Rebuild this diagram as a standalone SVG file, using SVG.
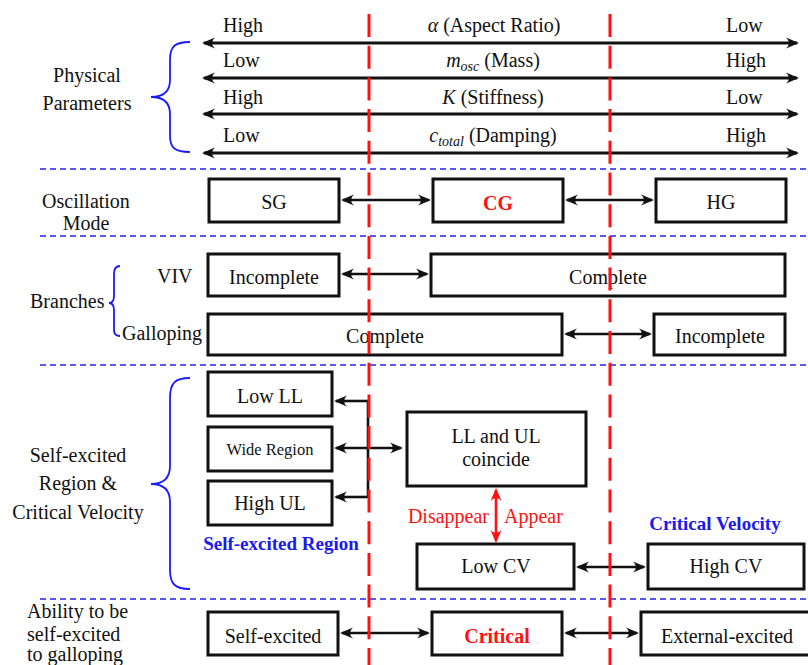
<svg xmlns="http://www.w3.org/2000/svg" width="808" height="665" viewBox="0 0 808 665" font-family="'Liberation Serif', 'DejaVu Serif', serif">
<defs>
<style>
text{font-family:'Liberation Serif','DejaVu Serif',serif;font-size:20px;fill:#111}
.c{text-anchor:middle}
.b{font-weight:bold}
.box{fill:#fff;stroke:#111;stroke-width:3}
.arr{stroke:#111;stroke-width:2.6;fill:none}
.top{stroke:#111;stroke-width:3;fill:none}
.brace{stroke:#1a1aff;stroke-width:1.8;fill:none}
.hsep{stroke:#2222ee;stroke-width:1.6;stroke-dasharray:6 4}
.vsep{stroke:#ff1111;stroke-width:3;stroke-dasharray:23 8.7}
</style>
<marker id="ah" markerWidth="16" markerHeight="14" refX="12" refY="7" orient="auto-start-reverse" markerUnits="userSpaceOnUse">
<path d="M14,7 L1,1.5 Q7,7 1,12.5 Z" fill="#111"/>
</marker>
<marker id="rh" markerWidth="16" markerHeight="14" refX="12" refY="7" orient="auto-start-reverse" markerUnits="userSpaceOnUse">
<path d="M14,7 L1,1.5 Q7,7 1,12.5 Z" fill="#ff1111"/>
</marker>
</defs>
<rect width="808" height="665" fill="#fff"/>

<g id="separators">
<line class="hsep" x1="40" y1="169" x2="808" y2="169"/>
<line class="hsep" x1="40" y1="236" x2="808" y2="236"/>
<line class="hsep" x1="40" y1="365" x2="808" y2="365"/>
<line class="hsep" x1="40" y1="599" x2="808" y2="599"/>
</g>

<g id="left-labels">
<text class="c" x="87" y="82">Physical</text>
<text class="c" x="87" y="110">Parameters</text>
<path class="brace" d="M190,42 C175,42 170,46 170,60 L170,80 C170,92 163,97 151,97 C163,97 170,102 170,114 L170,136 C170,148 175,152 190,152"/>
<text class="c" x="86" y="208">Oscillation</text>
<text class="c" x="86" y="230">Mode</text>
<text x="30" y="308">Branches</text>
<path class="brace" d="M120,266 C116,266 114,269 114,274 L114,296 C114,301 112,303 109,303 C112,303 114,305 114,310 L114,330 C114,334 116,336 120,336"/>
<text x="157" y="283">VIV</text>
<text x="122" y="340">Galloping</text>
<text class="c" x="78" y="462">Self-excited</text>
<text class="c" x="78" y="490">Region &amp;</text>
<text class="c" x="78" y="519">Critical Velocity</text>
<path class="brace" d="M190,378 C175,378 170,383 170,398 L170,466 C170,478 164,484 151,484 C164,484 170,490 170,502 L170,570 C170,584 175,589 190,589"/>
<text x="27" y="618">Ability to be</text>
<text x="27" y="641">self-excited</text>
<text x="27" y="661">to galloping</text>
</g>

<g id="parameters">
<line class="top" x1="204" y1="43" x2="797" y2="43" marker-start="url(#ah)" marker-end="url(#ah)"/>
<line class="top" x1="204" y1="78" x2="797" y2="78" marker-start="url(#ah)" marker-end="url(#ah)"/>
<line class="top" x1="204" y1="114" x2="797" y2="114" marker-start="url(#ah)" marker-end="url(#ah)"/>
<line class="top" x1="204" y1="153" x2="797" y2="153" marker-start="url(#ah)" marker-end="url(#ah)"/>
<text x="223" y="32">High</text>
<text x="223" y="67">Low</text>
<text x="223" y="104">High</text>
<text x="223" y="142">Low</text>
<text x="726" y="32">Low</text>
<text x="726" y="67">High</text>
<text x="726" y="104">Low</text>
<text x="726" y="142">High</text>
<text class="c" x="494" y="32"><tspan font-style="italic">α</tspan> (Aspect Ratio)</text>
<text class="c" x="493" y="67"><tspan font-style="italic">m</tspan><tspan font-style="italic" font-size="14" dy="4">osc</tspan><tspan dy="-4"> (Mass)</tspan></text>
<text class="c" x="493" y="104"><tspan font-style="italic">K</tspan> (Stiffness)</text>
<text class="c" x="493" y="142"><tspan font-style="italic">c</tspan><tspan font-style="italic" font-size="14" dy="4">total</tspan><tspan dy="-4"> (Damping)</tspan></text>
</g>

<g id="node-SG"><rect class="box" x="209" y="179" width="130" height="43"/><text class="c" x="274" y="209">SG</text></g>
<g id="node-CG"><rect class="box" x="433" y="179" width="130" height="43"/><text class="c b" x="498" y="210" style="fill:#ff1111">CG</text></g>
<g id="node-HG"><rect class="box" x="656" y="179" width="130" height="43"/><text class="c" x="721" y="209">HG</text></g>

<g id="node-VIV-incomplete"><rect class="box" x="208" y="254" width="131" height="42"/><text class="c" x="274" y="284">Incomplete</text></g>
<g id="node-VIV-complete"><rect class="box" x="431" y="254" width="354" height="42"/><text class="c" x="608" y="284">Complete</text></g>
<g id="node-gal-complete"><rect class="box" x="208" y="314" width="354" height="41"/><text class="c" x="385" y="343">Complete</text></g>
<g id="node-gal-incomplete"><rect class="box" x="654" y="314" width="131" height="41"/><text class="c" x="720" y="343">Incomplete</text></g>

<g id="node-lowLL"><rect class="box" x="208" y="372" width="124" height="44"/><text class="c" x="270" y="403">Low LL</text></g>
<g id="node-wide"><rect class="box" x="208" y="427" width="124" height="44"/><text class="c" x="270" y="455" style="font-size:16.5px">Wide Region</text></g>
<g id="node-highUL"><rect class="box" x="208" y="481" width="124" height="44"/><text class="c" x="270" y="510">High UL</text></g>
<g id="label-ser"><text class="c b" x="281" y="550" style="font-size:19px;fill:#1a1aee">Self-excited Region</text></g>
<g id="node-coincide"><rect class="box" x="407" y="412" width="179" height="74"/><text class="c" x="496" y="443">LL and UL</text><text class="c" x="496" y="466">coincide</text></g>
<g id="node-lowCV"><rect class="box" x="417" y="544" width="157" height="45"/><text class="c" x="496" y="573">Low CV</text></g>
<g id="node-highCV"><rect class="box" x="648" y="544" width="156" height="45"/><text class="c" x="726" y="573">High CV</text></g>
<g id="label-cv"><text class="c b" x="715" y="530" style="font-size:19px;fill:#1a1aee">Critical Velocity</text></g>

<g id="node-selfexcited"><rect class="box" x="208" y="612" width="130" height="43"/><text class="c" x="273" y="643">Self-excited</text></g>
<g id="node-critical"><rect class="box" x="432" y="612" width="130" height="43"/><text class="c b" x="497" y="643" style="fill:#ff1111">Critical</text></g>
<g id="node-external"><rect class="box" x="641" y="612" width="172" height="43"/><text class="c" x="727" y="643">External-excited</text></g>

<g id="connectors">
<line class="arr" x1="343" y1="200" x2="429" y2="200" marker-start="url(#ah)" marker-end="url(#ah)"/>
<line class="arr" x1="567" y1="200" x2="652" y2="200" marker-start="url(#ah)" marker-end="url(#ah)"/>
<line class="arr" x1="343" y1="274" x2="427" y2="274" marker-start="url(#ah)" marker-end="url(#ah)"/>
<line class="arr" x1="566" y1="334" x2="650" y2="334" marker-start="url(#ah)" marker-end="url(#ah)"/>
<line class="arr" x1="368" y1="401" x2="368" y2="497"/>
<line class="arr" x1="368" y1="401" x2="336" y2="401" marker-end="url(#ah)"/>
<line class="arr" x1="368" y1="497" x2="336" y2="497" marker-end="url(#ah)"/>
<line class="arr" x1="336" y1="448" x2="401" y2="448" marker-start="url(#ah)" marker-end="url(#ah)"/>
<line x1="496" y1="490" x2="496" y2="541" stroke="#ff1111" stroke-width="2.6" marker-start="url(#rh)" marker-end="url(#rh)"/>
<line class="arr" x1="578" y1="567" x2="644" y2="567" marker-start="url(#ah)" marker-end="url(#ah)"/>
<line class="arr" x1="342" y1="633" x2="428" y2="633" marker-start="url(#ah)" marker-end="url(#ah)"/>
<line class="arr" x1="566" y1="633" x2="637" y2="633" marker-start="url(#ah)" marker-end="url(#ah)"/>
<text x="489" y="523" style="fill:#ff1111;text-anchor:end">Disappear</text>
<text x="504" y="523" style="fill:#ff1111">Appear</text>
</g>

<g id="red-lines">
<line class="vsep" x1="369" y1="14" x2="369" y2="665"/>
<line class="vsep" x1="610" y1="14" x2="610" y2="665"/>
</g>
</svg>
